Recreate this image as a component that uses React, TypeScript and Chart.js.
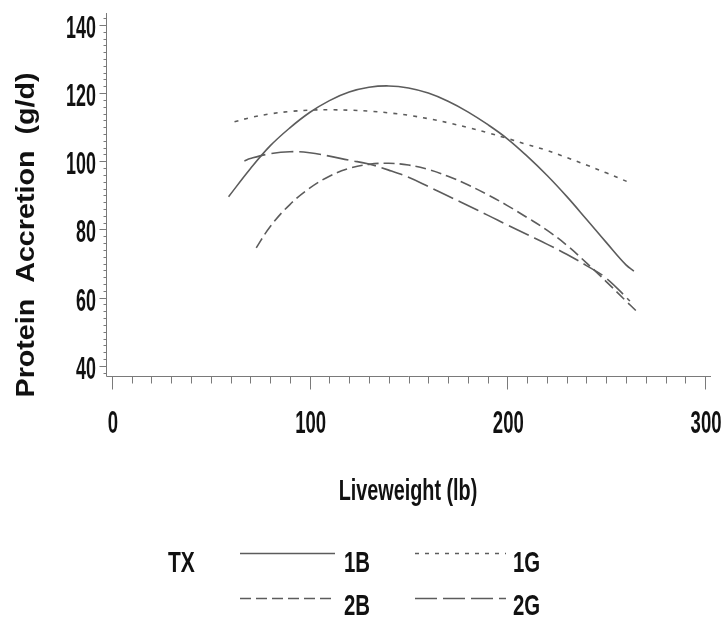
import React, { useEffect, useRef } from "react";
import { Chart, registerables } from "chart.js";

Chart.register(...registerables);

// ---- data ----
const seriesNames = ["1B", "1G", "2B", "2G"];

const x1B = [59, 70, 80, 90, 100, 110, 120, 130, 140, 150, 160, 170, 180, 190, 200, 210, 220, 230, 240, 250, 260, 264];
const y1B = [89.6, 97.8, 104.5, 109.8, 114.3, 117.8, 120.3, 121.7, 122.1, 121.5, 120.0, 117.6, 114.5, 110.8, 106.6, 101.5, 95.9, 89.7, 83.0, 76.2, 69.6, 67.8];

const x1G = [62, 70, 80, 90, 100, 110, 120, 130, 140, 150, 160, 170, 180, 190, 200, 210, 220, 230, 240, 250, 262];
const y1G = [111.6, 112.8, 113.9, 114.6, 115.0, 115.1, 115.0, 114.7, 114.2, 113.5, 112.5, 111.3, 109.9, 108.4, 106.7, 104.9, 103.2, 101.1, 98.9, 96.6, 93.7];

const x2B = [73, 80, 90, 100, 110, 120, 130, 140, 150, 160, 170, 180, 190, 200, 210, 220, 230, 240, 250, 260, 265];
const y2B = [74.6, 80.8, 87.3, 92.1, 95.6, 97.9, 99.1, 99.4, 98.9, 97.6, 95.6, 93.1, 90.2, 87.0, 83.5, 79.8, 75.4, 70.2, 64.7, 59.0, 56.2];

const x2G = [67, 70, 80, 90, 100, 110, 120, 130, 140, 150, 160, 170, 180, 190, 200, 210, 220, 230, 240, 250, 262];
const y2G = [100.1, 100.8, 102.2, 102.8, 102.5, 101.5, 100.3, 99.2, 97.4, 95.3, 92.6, 89.8, 87.0, 84.2, 81.3, 78.5, 75.7, 72.7, 69.4, 65.7, 59.0];

const xTickValues = [0, 100, 200, 300];
const yTickValues = [40, 60, 80, 100, 120, 140];
const xMinorTicks = [0, 10, 20, 30, 40, 50, 60, 70, 80, 90, 100, 110, 120, 130, 140, 150, 160, 170, 180, 190, 200, 210, 220, 230, 240, 250, 260, 270, 280, 290, 300];
const yMinorTicks = [38, 40, 42, 44, 46, 48, 50, 52, 54, 56, 58, 60, 62, 64, 66, 68, 70, 72, 74, 76, 78, 80, 82, 84, 86, 88, 90, 92, 94, 96, 98, 100, 102, 104, 106, 108, 110, 112, 114, 116, 118, 120, 122, 124, 126, 128, 130, 132, 134, 136, 138, 140, 142];

const xTitle = "Liveweight (lb)";
const yTitle = "Protein  Accretion  (g/d)";
const legendTitle = "TX";

const FONT = '"Liberation Sans", Arial, Helvetica, sans-serif';
const LINE_COLOR = "#5c5c5c";

function toPoints(xs: number[], ys: number[]) {
  return xs.map((x, i) => ({ x, y: ys[i] }));
}

function drawText(
  ctx: CanvasRenderingContext2D,
  s: string,
  x: number,
  y: number,
  font: string,
  sx: number,
  align: CanvasTextAlign
) {
  ctx.save();
  ctx.translate(x, y);
  ctx.scale(sx, 1);
  ctx.font = font;
  ctx.textAlign = align;
  ctx.textBaseline = "alphabetic";
  ctx.fillStyle = "#111";
  ctx.fillText(s, 0, 0);
  ctx.restore();
}

const decorPlugin = {
  id: "decor",
  afterDraw(chart: any) {
    const ctx: CanvasRenderingContext2D = chart.ctx;
    const xs = chart.scales.x;
    const ys = chart.scales.y;
    const area = chart.chartArea;
    ctx.save();
    ctx.strokeStyle = "#7a7a7a";
    ctx.lineWidth = 1;
    // axis lines
    ctx.beginPath();
    ctx.moveTo(Math.round(area.left) + 0.5, area.top);
    ctx.lineTo(Math.round(area.left) + 0.5, Math.round(area.bottom) + 0.5);
    ctx.lineTo(area.right, Math.round(area.bottom) + 0.5);
    ctx.stroke();
    // x ticks
    const by = Math.round(area.bottom) + 0.5;
    ctx.beginPath();
    xMinorTicks.forEach((v) => {
      const px = Math.round(xs.getPixelForValue(v)) + 0.5;
      const major = xTickValues.includes(v);
      ctx.moveTo(px, by);
      ctx.lineTo(px, by + (major ? 13 : 7));
    });
    ctx.stroke();
    // y ticks
    const lx = Math.round(area.left) + 0.5;
    ctx.beginPath();
    yMinorTicks.forEach((v) => {
      const py = Math.round(ys.getPixelForValue(v)) + 0.5;
      const major = yTickValues.includes(v);
      ctx.moveTo(lx, py);
      ctx.lineTo(lx - (major ? 7 : 3), py);
    });
    ctx.stroke();
    ctx.restore();

    // tick labels
    const tickFont = `bold 32px ${FONT}`;
    yTickValues.forEach((v) => {
      drawText(ctx, String(v), 96, ys.getPixelForValue(v) + 13, tickFont, 0.56, "right");
    });
    xTickValues.forEach((v) => {
      drawText(ctx, String(v), xs.getPixelForValue(v) + 1, 433, tickFont, 0.58, "center");
    });

    // axis titles
    drawText(ctx, xTitle, 408, 500, `bold 30px ${FONT}`, 0.66, "center");
    ctx.save();
    ctx.font = `bold 26px ${FONT}`;
    const w = ctx.measureText(yTitle).width;
    ctx.translate(34, 235);
    ctx.rotate(-Math.PI / 2);
    ctx.scale(325 / w, 1);
    ctx.textAlign = "center";
    ctx.textBaseline = "alphabetic";
    ctx.fillStyle = "#111";
    ctx.fillText(yTitle, 0, 0);
    ctx.restore();

    // legend
    const legFont = `bold 30px ${FONT}`;
    drawText(ctx, legendTitle, 168, 572, legFont, 0.7, "left");
    const cols = [
      { lx0: 240, lx1: 335, tx: 344 },
      { lx0: 415, lx1: 506, tx: 513 },
    ];
    const rows = [
      { ly: 553.5, ty: 572 },
      { ly: 598.5, ty: 615 },
    ];
    chart.data.datasets.forEach((ds: any, i: number) => {
      const c = cols[i % 2];
      const r = rows[Math.floor(i / 2)];
      ctx.save();
      ctx.strokeStyle = ds.borderColor;
      ctx.lineWidth = ds.borderWidth;
      ctx.setLineDash(ds.borderDash || []);
      ctx.beginPath();
      ctx.moveTo(c.lx0, r.ly);
      ctx.lineTo(c.lx1, r.ly);
      ctx.stroke();
      ctx.restore();
      drawText(ctx, ds.label, c.tx, r.ty, legFont, 0.68, "left");
    });
  },
};

export default function App() {
  const ref = useRef<HTMLCanvasElement | null>(null);
  useEffect(() => {
    if (!ref.current) return;
    const mk = (label: string, xs: number[], ys: number[], dash: number[]) => ({
      label,
      data: toPoints(xs, ys),
      borderColor: LINE_COLOR,
      borderWidth: 1.6,
      borderDash: dash,
      pointRadius: 0,
      tension: 0.4,
      fill: false,
    });
    const chart = new Chart(ref.current, {
      type: "line",
      data: {
        datasets: [
          mk(seriesNames[0], x1B, y1B, []),
          mk(seriesNames[1], x1G, y1G, [4, 6]),
          mk(seriesNames[2], x2B, y2B, [11, 5]),
          mk(seriesNames[3], x2G, y2G, [22, 6]),
        ],
      },
      options: {
        animation: false,
        responsive: false,
        devicePixelRatio: 1,
        layout: { padding: { left: 106, top: 13, right: 15, bottom: 243 } },
        plugins: { legend: { display: false }, tooltip: { enabled: false } },
        scales: {
          x: { type: "linear", min: -3, max: 303, display: false },
          y: { type: "linear", min: 37, max: 143.5, display: false },
        },
      },
      plugins: [decorPlugin],
    });
    return () => chart.destroy();
  }, []);
  return (
    <div style={{ position: "fixed", left: 0, top: 0, width: 726, height: 619, background: "#fff" }}>
      <canvas ref={ref} width={726} height={619} />
    </div>
  );
}
